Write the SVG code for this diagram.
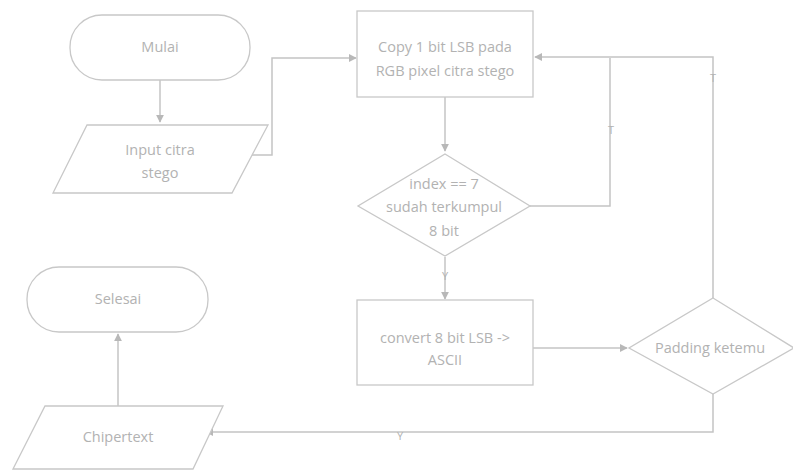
<svg xmlns="http://www.w3.org/2000/svg" width="793" height="470" viewBox="0 0 793 470">
<defs>
<marker id="ah" viewBox="0 0 10 10" refX="9" refY="5" markerWidth="8" markerHeight="8" orient="auto" markerUnits="userSpaceOnUse">
<path d="M0,0 L10,5 L0,10 z" fill="#b8b8b8"/>
</marker>
<style>
.s{fill:#fff;stroke:#c8c8c8;stroke-width:1.3}
.c{fill:none;stroke:#c4c4c4;stroke-width:1.5}
.t{font-family:"Open Sans","Liberation Sans",sans-serif;font-size:14.5px;fill:#b2b2b2;text-anchor:middle}
.l{font-family:"Open Sans","Liberation Sans",sans-serif;font-size:11px;fill:#b2b2b2;text-anchor:middle}
</style>
</defs>
<rect width="793" height="470" fill="#fff"/>
<g id="connectors">
<path class="c" d="M160,80 V122" marker-end="url(#ah)"/>
<path class="c" d="M250,155 H272 V58 H356" marker-end="url(#ah)"/>
<path class="c" d="M445,97 V151" marker-end="url(#ah)"/>
<path class="c" d="M530,206 H610 V58"/>
<path class="c" d="M713,298 V57 H535" marker-end="url(#ah)"/>
<path class="c" d="M445,257 V299" marker-end="url(#ah)"/>
<path class="c" d="M533,348 H627" marker-end="url(#ah)"/>
<path class="c" d="M713,393 V432 H206" marker-end="url(#ah)"/>
<path class="c" d="M118,406 V334" marker-end="url(#ah)"/>
<text class="l" x="611" y="134">T</text>
<text class="l" x="713" y="82">T</text>
<text class="l" x="445" y="280">Y</text>
<text class="l" x="400" y="440">Y</text>
</g>
<g id="mulai">
<rect class="s" x="70" y="15" width="180" height="65" rx="32"/>
<text class="t" x="160" y="52">Mulai</text>
</g>
<g id="input">
<polygon class="s" points="87,125 268,125 232,193 53,193"/>
<text class="t" x="160" y="155">Input citra</text>
<text class="t" x="160" y="178">stego</text>
</g>
<g id="copy">
<rect class="s" x="357" y="11" width="176" height="86"/>
<text class="t" x="445" y="52">Copy 1 bit LSB pada</text>
<text class="t" x="445" y="76">RGB pixel citra stego</text>
</g>
<g id="index">
<polygon class="s" points="445,154 530,206 445,256 358,206"/>
<text class="t" x="444" y="189">index == 7</text>
<text class="t" x="444" y="212">sudah terkumpul</text>
<text class="t" x="444" y="236">8 bit</text>
</g>
<g id="convert">
<rect class="s" x="357" y="300" width="176" height="85"/>
<text class="t" x="445" y="343">convert 8 bit LSB -&gt;</text>
<text class="t" x="445" y="365">ASCII</text>
</g>
<g id="padding">
<polygon class="s" points="713,298 794,348 713,394 629,348"/>
<text class="t" x="710" y="353">Padding ketemu</text>
</g>
<g id="chipertext">
<polygon class="s" points="45,406 223,406 193,469 13,469"/>
<text class="t" x="118" y="442">Chipertext</text>
</g>
<g id="selesai">
<rect class="s" x="27" y="267" width="181" height="65" rx="32"/>
<text class="t" x="118" y="304">Selesai</text>
</g>
</svg>
